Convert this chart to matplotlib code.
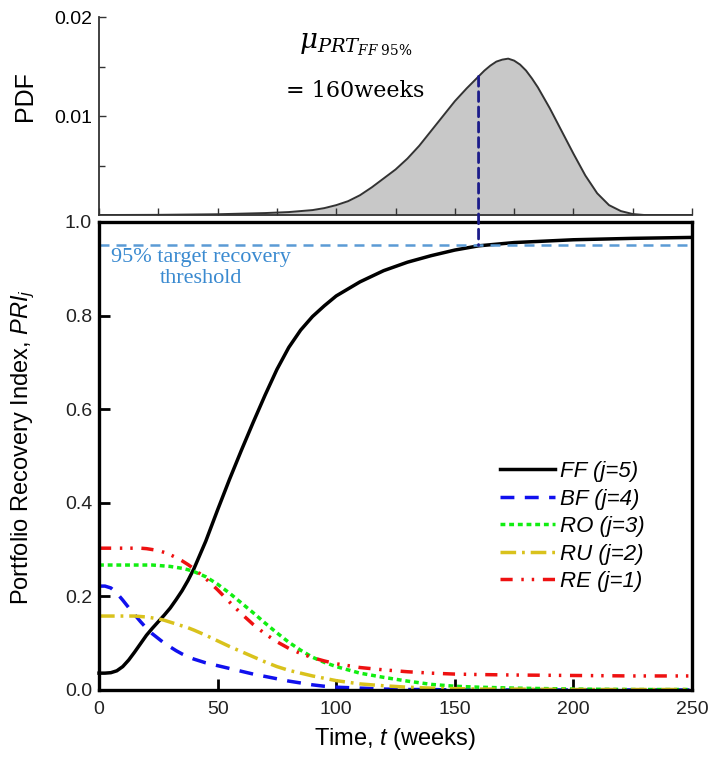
import numpy as np
import matplotlib
matplotlib.use('Agg')
import matplotlib.pyplot as plt
from matplotlib.patches import ConnectionPatch

plt.rcParams['font.family'] = ['Liberation Sans', 'DejaVu Sans']
plt.rcParams['mathtext.fontset'] = 'custom'
plt.rcParams['mathtext.rm'] = 'Liberation Sans'
plt.rcParams['mathtext.it'] = 'Liberation Sans:italic'

# PDF of portfolio recovery time (top panel)
pdf_t = [0, 25, 50, 70, 80, 90, 95, 100, 105, 110, 115, 120, 125, 130, 135, 140, 145,
         150, 155, 160, 162.5, 165, 167.5, 170, 172.5, 175, 177.5, 180, 182.5, 185,
         190, 195, 200, 205, 210, 215, 220, 225, 230, 250]
pdf_val = [0.0, 0.00002, 0.00008, 0.0002, 0.0003, 0.0005, 0.0007, 0.0010, 0.0014,
           0.0020, 0.0028, 0.0037, 0.0046, 0.0057, 0.0070, 0.0085, 0.0100, 0.0115,
           0.0128, 0.0140, 0.0146, 0.0151, 0.0155, 0.0157, 0.0158, 0.0156, 0.0152,
           0.0146, 0.0138, 0.0129, 0.0108, 0.0085, 0.0062, 0.0040, 0.0022, 0.0010,
           0.0004, 0.0001, 0.0, 0.0]

# recovery index curves (bottom panel)
t = [0, 2.5, 5, 7.5, 10, 12.5, 15, 17.5, 20, 22.5, 25, 27.5, 30, 32.5, 35, 37.5, 40,
     45, 50, 55, 60, 65, 70, 75, 80, 85, 90, 95, 100,
     110, 120, 130, 140, 150, 160, 175, 200, 225, 250]
ff = [0.036, 0.036, 0.037, 0.041, 0.050, 0.064, 0.081, 0.099, 0.117, 0.132, 0.146,
      0.160, 0.175, 0.193, 0.212, 0.234, 0.259,
      0.318, 0.385, 0.450, 0.512, 0.572, 0.630, 0.685, 0.732, 0.769, 0.798, 0.821, 0.842,
      0.872, 0.896, 0.914, 0.928, 0.940, 0.949, 0.956, 0.962, 0.965, 0.967]
bf = [0.222, 0.222, 0.218, 0.207, 0.192, 0.176, 0.161, 0.146, 0.132, 0.120, 0.110,
      0.100, 0.092, 0.084, 0.077, 0.071, 0.066,
      0.058, 0.052, 0.046, 0.040, 0.034, 0.029, 0.024, 0.019, 0.015, 0.011, 0.008, 0.006,
      0.004, 0.002, 0.001, 0.001, 0.0, 0.0, 0.0, 0.0, 0.0, 0.0]
ro = [0.267, 0.267, 0.267, 0.267, 0.267, 0.267, 0.267, 0.267, 0.267, 0.267, 0.266,
      0.265, 0.264, 0.262, 0.260, 0.257, 0.253,
      0.242, 0.226, 0.207, 0.186, 0.165, 0.143, 0.122, 0.102, 0.085, 0.070, 0.059, 0.050,
      0.036, 0.027, 0.019, 0.012, 0.008, 0.006, 0.004, 0.002, 0.001, 0.001]
ru = [0.158, 0.158, 0.158, 0.158, 0.158, 0.158, 0.158, 0.157, 0.156, 0.154, 0.152,
      0.149, 0.145, 0.141, 0.137, 0.133, 0.128,
      0.117, 0.105, 0.093, 0.082, 0.071, 0.060, 0.050, 0.042, 0.036, 0.030, 0.025, 0.020,
      0.013, 0.009, 0.006, 0.004, 0.003, 0.002, 0.002, 0.001, 0.001, 0.001]
re = [0.303, 0.303, 0.303, 0.303, 0.303, 0.303, 0.303, 0.303, 0.302, 0.300, 0.298,
      0.294, 0.289, 0.283, 0.276, 0.268, 0.259,
      0.238, 0.214, 0.188, 0.163, 0.140, 0.120, 0.103, 0.089, 0.078, 0.069, 0.062, 0.056,
      0.048, 0.043, 0.039, 0.036, 0.034, 0.033, 0.032, 0.031, 0.030, 0.030]

labels = ['FF (j=5)', 'BF (j=4)', 'RO (j=3)', 'RU (j=2)', 'RE (j=1)']
colors = ['black', '#1010ee', '#11ee11', '#d9c21c', '#ee1111']
dashes = [None, (4, 3), (1.4, 1.1), (4.5, 1.7, 0.8, 1.7), (3.5, 2.5, 0.7, 2.3, 0.7, 2.5)]

threshold = 0.95
t_target = 160

fig = plt.figure(figsize=(7.15, 7.62), dpi=100)
ax = fig.add_axes([0.1385, 0.0945, 0.8294, 0.6142])
axp = fig.add_axes([0.1385, 0.7178, 0.8294, 0.2598])

# ---- top panel: PDF
axp.fill_between(pdf_t, pdf_val, color='#c8c8c8', lw=0)
axp.plot(pdf_t, pdf_val, color='#333333', lw=1.4)
axp.set_xlim(0, 250)
axp.set_ylim(0, 0.02)
axp.set_xticks(np.arange(0, 251, 25))
axp.set_xticklabels([])
axp.set_yticks([0.01, 0.02])
axp.set_yticklabels(['0.01', '0.02'])
axp.set_yticks([0.005, 0.015], minor=True)
axp.tick_params(direction='in', length=5, width=1, labelsize=14, pad=5, colors='#333333')
axp.tick_params(which='minor', direction='in', length=4, width=1, colors='#333333')
axp.tick_params(axis='y', labelcolor='black')
for s in ['top', 'right']:
    axp.spines[s].set_visible(False)
for s in ['left', 'bottom']:
    axp.spines[s].set_linewidth(1.3)
    axp.spines[s].set_color('#333333')
axp.set_ylabel('PDF', fontsize=18)
axp.yaxis.set_label_coords(-0.105, 0.6)

axp.text(108, 0.0168, r'$\mu_{PRT_{FF\ 95\%}}$', ha='center', va='baseline',
         fontsize=20, math_fontfamily='dejavuserif')
axp.text(108, 0.0119, '= 160weeks', ha='center', va='baseline', fontsize=16,
         family='DejaVu Serif')

# ---- bottom panel: recovery index
series = [ff, bf, ro, ru, re]
for y, lab, c, d in zip(series, labels, colors, dashes):
    line, = ax.plot(t, y, color=c, lw=2.5, label=lab, clip_on=False)
    if d is not None:
        line.set_dashes(d)

ax.axhline(threshold, color='#5b9bd5', lw=1.8, dashes=(4, 2.8))
ax.text(43, 0.945, '95% target recovery\nthreshold', ha='center', va='top',
        fontsize=16, color='#3a8ad0', family='Liberation Serif', linespacing=1.15)

pdf_at_target = pdf_val[pdf_t.index(t_target)]
con = ConnectionPatch(xyA=(t_target, pdf_at_target), coordsA=axp.transData,
                      xyB=(t_target, threshold), coordsB=ax.transData,
                      color='#1c1c8a', lw=2, linestyle=(0, (3.5, 2)), zorder=5)
fig.add_artist(con)

ax.set_xlim(0, 250)
ax.set_ylim(0, 1.0)
ax.set_xticks(np.arange(0, 251, 50))
ax.set_yticks(np.arange(0, 1.01, 0.2))
ax.set_yticklabels(['%.1f' % v for v in np.arange(0, 1.01, 0.2)])
ax.tick_params(direction='in', length=8, width=2, labelsize=14, colors='black')
ax.tick_params(axis='x', pad=8, labelcolor='#222222')
ax.tick_params(axis='y', pad=5, labelcolor='#222222')
for s in ax.spines.values():
    s.set_linewidth(2.4)

ax.set_xlabel('Time, $t$ (weeks)', fontsize=17, labelpad=6)
ax.set_ylabel('Portfolio Recovery Index, $PRI_j$', fontsize=17)
ax.yaxis.set_label_coords(-0.105, 0.52)

leg = ax.legend(loc='center left', bbox_to_anchor=(0.676, 0.349), frameon=False,
                handlelength=2.5, handletextpad=0.2, labelspacing=0.29,
                borderpad=0, borderaxespad=0, prop={'style': 'italic', 'size': 16})

fig.savefig('out.png', dpi=100)
